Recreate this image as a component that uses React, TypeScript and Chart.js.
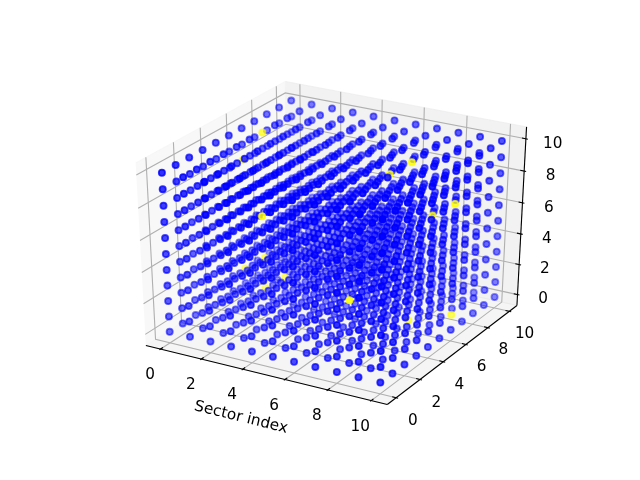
import React, { useEffect, useRef } from "react";
import { Chart, registerables } from "chart.js";

Chart.register(...registerables);

const sectorIndex = [0, 1, 2, 3, 4, 5, 6, 7, 8, 9, 10];
const axisTicks = [0, 2, 4, 6, 8, 10];
const xAxisTitle = "Sector index";
const yellowCells: number[][] = [
  [1, 6, 10], [0, 6, 8], [4, 1, 8], [8, 6, 10], [7, 6, 9], [10, 6, 8], [9, 6, 7],
  [0, 6, 1], [1, 6, 2], [2, 6, 1], [1, 6, 0], [8, 1, 4], [8, 6, 0], [10, 6, 1],
];

const LIM_LO = -0.5, LIM_HI = 10.5, PANE_LO = -0.729, PANE_HI = 10.729;
const SX = 2675, SY = 2000, X0 = 334.4, Y0 = 237.2;

function proj(x: number, y: number, z: number) {
  const s = LIM_HI - LIM_LO;
  const a = (x - LIM_LO) / s - 0.5, b = (y - LIM_LO) / s - 0.5, c = (z - LIM_LO) / s - 0.5;
  const cos30 = Math.sqrt(3) / 2;
  const n = [cos30 * 0.5, -cos30 * cos30, 0.5];
  const u = [cos30, 0.5, 0];
  const v = [-0.25, cos30 * 0.5, cos30];
  const w = 10 - (n[0] * a + n[1] * b + n[2] * c);
  return { x: (u[0] * a + u[1] * b) / w, y: (v[0] * a + v[1] * b + v[2] * c) / w, depth: -10 / w };
}
const P = (x: number, y: number, z: number) => { const p = proj(x, y, z); return { x: p.x, y: p.y }; };

function lineDs(pts: any[], color: string, width: number) {
  return { type: "scatter", showLine: true, data: pts, borderColor: color, borderWidth: width, pointRadius: 0, fill: false, tension: 0, backgroundColor: color };
}
function paneDs(pts: any[], color: string) {
  return { type: "scatter", showLine: true, data: pts, borderColor: color, borderWidth: 1, pointRadius: 0, fill: "shape", tension: 0, backgroundColor: color };
}

export default function App() {
  const ref = useRef<HTMLCanvasElement>(null);
  useEffect(() => {
    const pts: any[] = [];
    for (const x of sectorIndex) for (const y of sectorIndex) for (const z of sectorIndex) {
      const p = proj(x, y, z);
      pts.push({ x: p.x, y: p.y, depth: p.depth, yellow: yellowCells.some((c) => c[0] === x && c[1] === y && c[2] === z) });
    }
    pts.sort((a, b) => b.depth - a.depth);
    const dMax = pts[0].depth, dMin = pts[pts.length - 1].depth;
    const colors = pts.map((p) => {
      const alpha = 1 - ((p.depth - dMin) / (dMax - dMin)) * 0.7;
      return p.yellow ? `rgba(255,255,0,${alpha})` : `rgba(0,0,255,${alpha})`;
    });
    const L = PANE_LO, H = PANE_HI;
    const datasets: any[] = [
      { type: "scatter", data: pts.map((p) => ({ x: p.x, y: p.y })), pointRadius: 3.1, pointBorderWidth: 1.8, pointBackgroundColor: colors, pointBorderColor: colors, showLine: false },
    ];
    const grey = "#b0b0b0";
    for (const t of axisTicks) {
      datasets.push(lineDs([P(t, L, L), P(t, H, L), P(t, H, H)], grey, 1.1));
      datasets.push(lineDs([P(H, t, L), P(L, t, L), P(L, t, H)], grey, 1.1));
      datasets.push(lineDs([P(L, L, t), P(L, H, t), P(H, H, t)], grey, 1.1));
      datasets.unshift(lineDs([P(t, L + 0.18, L), P(t, L - 0.09, L)], "#000", 1.1));
      datasets.unshift(lineDs([P(H - 0.18, t, L), P(H + 0.09, t, L)], "#000", 1.1));
      datasets.unshift(lineDs([P(H - 0.18, H, t), P(H + 0.09, H, t)], "#000", 1.1));
    }
    datasets.unshift(lineDs([P(L, L, L), P(H, L, L)], "#000", 1.1));
    datasets.unshift(lineDs([P(H, L, L), P(H, H, L)], "#000", 1.1));
    datasets.unshift(lineDs([P(H, H, L), P(H, H, H)], "#000", 1.1));
    datasets.push(paneDs([P(L, L, L), P(L, H, L), P(L, H, H), P(L, L, H)], "rgba(242,242,242,0.5)"));
    datasets.push(paneDs([P(L, H, L), P(H, H, L), P(H, H, H), P(L, H, H)], "rgba(230,230,230,0.5)"));
    datasets.push(paneDs([P(L, L, L), P(H, L, L), P(H, H, L), P(L, H, L)], "rgba(236,236,236,0.5)"));

    const textPlugin = {
      id: "labels3d",
      afterDatasetsDraw(chart: any) {
        const c = chart.ctx, sx = chart.scales.x, sy = chart.scales.y;
        const at = (p: any) => [sx.getPixelForValue(p.x), sy.getPixelForValue(p.y)];
        c.save();
        c.fillStyle = "#000";
        c.font = "15.28px 'DejaVu Sans'";
        c.textAlign = "center";
        c.textBaseline = "middle";
        for (const t of axisTicks) {
          const a = at(P(t, L - 0.87, L - 1.2)); c.fillText(String(t), a[0], a[1]);
          const b = at(P(H + 0.78, t, L - 1.26)); c.fillText(String(t), b[0], b[1]);
          const e = at(P(H + 0.83, H + 0.83, t - 0.48)); c.fillText(String(t), e[0], e[1]);
        }
        const m = at(P(5, L - 1.82, L - 1.75));
        const a0 = at(P(L, L, L)), a1 = at(P(H, L, L));
        c.translate(m[0], m[1]);
        c.rotate(Math.atan2(a1[1] - a0[1], a1[0] - a0[0]));
        c.fillText(xAxisTitle, 0, 0);
        c.restore();
      },
    };
    const chart = new Chart(ref.current!, {
      type: "scatter",
      data: { datasets },
      plugins: [textPlugin],
      options: {
        animation: false, responsive: false,
        layout: { padding: 0, autoPadding: false },
        plugins: { legend: { display: false }, tooltip: { enabled: false } },
        scales: {
          x: { type: "linear", display: false, bounds: "data", min: (0 - X0) / SX, max: (640 - X0) / SX },
          y: { type: "linear", display: false, bounds: "data", min: (Y0 - 480) / SY, max: Y0 / SY },
        },
      },
    } as any);
    return () => chart.destroy();
  }, []);
  return (
    <div style={{ position: "absolute", left: 0, top: 0, width: 640, height: 480 }}>
      <canvas ref={ref} width={640} height={480} style={{ display: "block" }} />
    </div>
  );
}
